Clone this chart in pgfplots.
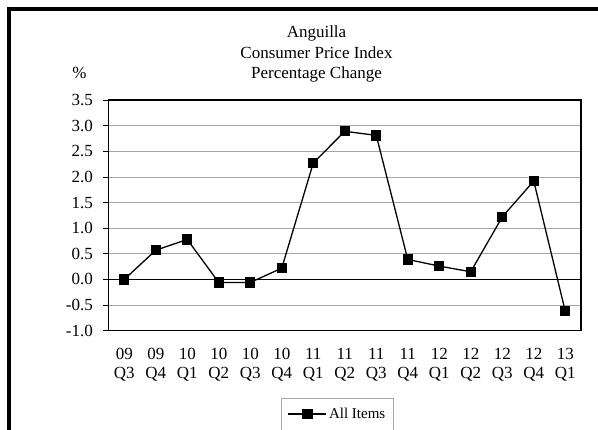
\documentclass[border=0pt]{standalone}
\usepackage{fontspec}
\setmainfont{Liberation Serif}
\usepackage{pgfplots}
\pgfplotsset{compat=1.18}
\begin{document}
\begin{tikzpicture}[x=1bp,y=1bp,font=\fontsize{17bp}{20bp}\selectfont]
\useasboundingbox (0,0) rectangle (598,429);
\clip (0,0) rectangle (598,429);
% outer frame (cut off at right and bottom)
\draw[line width=3.5bp] (9,-20) -- (9,420) -- (620,420);
% title
\node[anchor=base] at (316.5,391) {Anguilla};
\node[anchor=base] at (316.5,371) {Consumer Price Index};
\node[anchor=base] at (316.5,351) {Percentage Change};
\node[anchor=base] at (79.5,351) {\%};
\begin{axis}[
  at={(108.5bp,98.3bp)}, anchor=south west,
  scale only axis, width=472.5bp, height=230.7bp,
  xmin=-0.5, xmax=14.5, ymin=-1, ymax=3.5,
  axis line style={line width=1.4bp},
  xtick={0,...,14}, major x tick style={draw=none},
  xticklabels={{09\\Q3},{09\\Q4},{10\\Q1},{10\\Q2},{10\\Q3},{10\\Q4},{11\\Q1},{11\\Q2},{11\\Q3},{11\\Q4},{12\\Q1},{12\\Q2},{12\\Q3},{12\\Q4},{13\\Q1}},
  xticklabel style={align=center, inner sep=0pt, yshift=-12bp,
    font=\fontsize{17bp}{19bp}\selectfont},
  ytick={-1,-0.5,...,3.5}, ytick pos=left,
  /pgf/number format/fixed, /pgf/number format/fixed zerofill,
  /pgf/number format/precision=1, /pgf/number format/assume math mode=true,
  yticklabel style={inner sep=0pt, xshift=-10bp},
  y tick style={black, line width=0.8bp}, tick align=outside, major tick length=5.5bp,
  ymajorgrids, grid style={gray!70, line width=0.8bp},
  extra y ticks={0}, extra y tick labels={},
  extra y tick style={grid style={black, line width=0.9bp}},
  legend style={at={(0.4847,-0.2904)}, anchor=north, draw=gray!70, line width=0.6bp,
    inner xsep=6bp, inner ysep=8bp, font=\fontsize{15bp}{18bp}\selectfont},
  legend image code/.code={\draw[mark repeat=2,mark phase=2] plot coordinates {(0bp,0bp) (19bp,0bp) (38bp,0bp)};},
]
\addplot[black, line width=1.3bp, mark=square*, mark size=4.5bp, mark options={solid}] coordinates {
  (0,0.00) (1,0.57) (2,0.78) (3,-0.06) (4,-0.06) (5,0.22) (6,2.27) (7,2.89)
  (8,2.81) (9,0.39) (10,0.26) (11,0.15) (12,1.22) (13,1.92) (14,-0.62)
};
\addlegendentry{All Items}
\end{axis}
\end{tikzpicture}
\end{document}
